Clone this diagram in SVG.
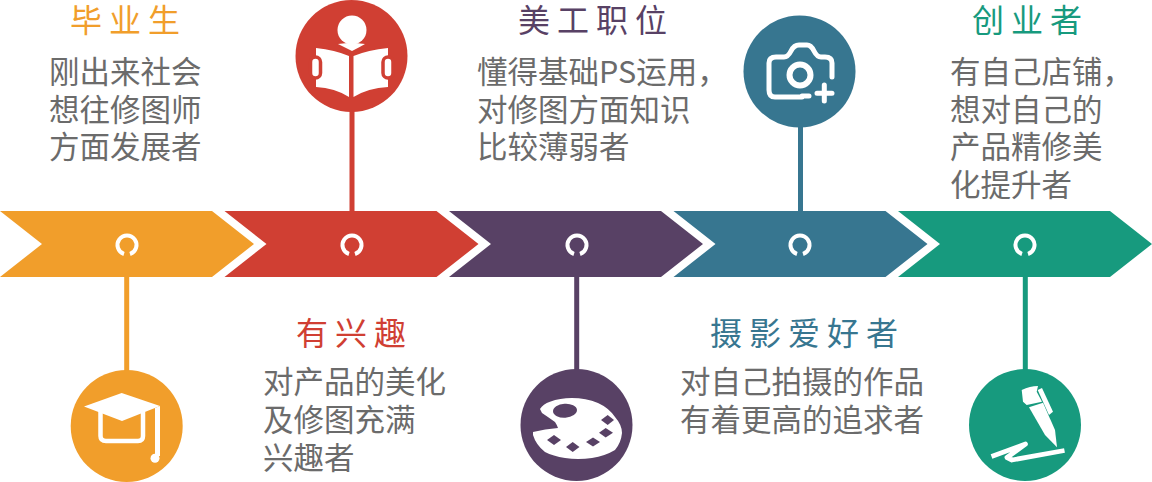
<svg xmlns="http://www.w3.org/2000/svg" width="1152" height="482" viewBox="0 0 1152 482">
<style>
text{font-family:"Noto Sans CJK SC","Noto Sans",sans-serif}
.b{font-size:30.500px;fill:#6b6b6b}
.t{font-size:32px;font-weight:400;letter-spacing:7px}
.w{fill:#fff}
.ws{fill:none;stroke:#fff;stroke-linecap:round;stroke-linejoin:round}
.o{fill:#f19e2b}.r{fill:#d03f33}.p{fill:#584165}.s{fill:#377690}.g{fill:#179a7e}
.ol{stroke:#f19e2b}.rl{stroke:#d03f33}.pl{stroke:#584165}.sl{stroke:#377690}.gl{stroke:#179a7e}
.ring{fill:none;stroke:#fff;stroke-width:4}
</style>
<defs>
<polygon id="arrow" points="0,211 212,211 254,244 212,277 0,277 42,244"/>
<g id="ringmark"><path class="ring" d="M-3,9.500A9.500,9.500 0 1 1 3,9.500"/></g>
</defs>
<g id="connectors" stroke-width="5" fill="none">
<line class="ol" x1="126.700" y1="254" x2="126.700" y2="372"/>
<line class="rl" x1="352" y1="110" x2="352" y2="254"/>
<line class="pl" x1="576.700" y1="254" x2="576.700" y2="372"/>
<line class="sl" x1="800.500" y1="125" x2="800.500" y2="254"/>
<line class="gl" x1="1025.300" y1="254" x2="1025.300" y2="372"/>
</g>
<g id="node-1">
<use href="#arrow" class="o"/><use href="#ringmark" x="127" y="244.500"/>
<circle class="o" cx="126.700" cy="426" r="56"/>
<path class="ws" stroke-width="4.500" d="M100.500,412V436Q100.500,441 106,441H138Q143,441 143,436V412"/>
<path class="w" d="M84,406.500L121.700,393L160,406L122,421Z"/>
<path class="w" d="M155,408L160,406V456H155Z"/>
<circle class="w" cx="155" cy="458.300" r="4.500"/>
<text class="t o" x="70" y="32">毕业生</text>
<text class="b" x="49" y="83">刚出来社会</text>
<text class="b" x="49" y="121">想往修图师</text>
<text class="b" x="49" y="158">方面发展者</text>
</g>
<g id="node-2">
<use href="#arrow" x="224.500" class="r"/><use href="#ringmark" x="352" y="244.500"/>
<circle class="r" cx="351.500" cy="56" r="56"/>
<circle class="w" cx="352" cy="30" r="14.500"/>
<path class="w" d="M338,44Q346,43 351,43Q358,43 365,44Q360,47 352,51Q344,47 338,44Z"/>
<path class="w" d="M316,48Q335,50 349,56V97Q335,88 316,87ZM353.500,56Q368,50 388,48V87Q368,88 353.500,97Z"/>
<rect class="w" x="310.500" y="57" width="10" height="21" rx="5" stroke="#d03f33" stroke-width="3.500"/>
<rect class="w" x="383" y="57" width="10" height="21" rx="5" stroke="#d03f33" stroke-width="3.500"/>
<text class="t r" x="296" y="345">有兴趣</text>
<text class="b" x="263" y="393">对产品的美化</text>
<text class="b" x="263" y="431">及修图充满</text>
<text class="b" x="263" y="469">兴趣者</text>
</g>
<g id="node-3">
<use href="#arrow" x="449" class="p"/><use href="#ringmark" x="577" y="244.500"/>
<circle class="p" cx="576.500" cy="425" r="56"/>
<path class="w" d="M540,409Q543,404 550,401.700Q560,398 571.700,398Q586,398 598,403Q609,408 615,417Q622,425 622,433Q621,443 615,450Q605,456 592,458Q578,460 565,458Q553,456 545,452Q536,445 533,435L533,432Q545,429 558,428Q557,425 555,422Q548,417 542,413Z"/>
<g class="p">
<ellipse cx="565" cy="410.700" rx="12" ry="7" transform="rotate(-4 565 410.700)"/>
<path d="M601,420L607.700,415L614,420L607.700,425Z"/>
<path d="M599,432.700L605.700,428L613,432.700L605.700,437.500Z"/>
<path d="M586,442L593,437.500L600,442L593,446.500Z"/>
<path d="M566,447L572.700,442L579.500,447L572.700,452Z"/>
<path d="M547,440L554,435L561,440L554,445Z"/>
</g>
<text class="t p" x="518" y="32">美工职位</text>
<text class="b" x="477" y="83">懂得基础PS运用，</text>
<text class="b" x="477" y="121">对修图方面知识</text>
<text class="b" x="477" y="158">比较薄弱者</text>
</g>
<g id="node-4">
<use href="#arrow" x="673.500" class="s"/><use href="#ringmark" x="800" y="244.500"/>
<circle class="s" cx="799.500" cy="71.500" r="56"/>
<path class="ws" stroke-width="5" d="M809,96H802V97H775Q769,97 769,90V63Q769,57 776,57H784Q788,57 791,51Q794,45 799,45H807Q811,45 814,51Q817,57 821,57H825Q832,57 832,63V77"/>
<circle cx="800" cy="75" r="10.500" fill="none" stroke="#fff" stroke-width="6"/>
<path class="ws" stroke-width="5" d="M824.300,85V101M817,93.300H832"/>
<text class="t s" x="710" y="345">摄影爱好者</text>
<text class="b" x="680" y="393">对自己拍摄的作品</text>
<text class="b" x="680" y="431">有着更高的追求者</text>
</g>
<g id="node-5">
<use href="#arrow" x="898" class="g"/><use href="#ringmark" x="1025" y="244.500"/>
<circle class="g" cx="1025" cy="425" r="56"/>
<path class="w" d="M1021.700,390Q1030,386 1038,386L1036.700,391.700L1042,401.700L1026.700,405L1023,401.700Z"/>
<path class="w" d="M1037.700,390L1042,388L1053,411.700L1049,415Z"/>
<path class="w" d="M1029,407.300L1043,402.700L1055,430L1057,447.300L1045,435Z"/>
<path fill="none" stroke="#fff" stroke-width="4.800" stroke-linejoin="round" d="M991.500,456.500L1025.500,444L1007,457.500L1012,460L1064.500,450.500"/>
<text class="t g" x="972" y="32">创业者</text>
<text class="b" x="950" y="83">有自己店铺，</text>
<text class="b" x="950" y="121">想对自己的</text>
<text class="b" x="950" y="158">产品精修美</text>
<text class="b" x="950" y="196">化提升者</text>
</g>
</svg>
